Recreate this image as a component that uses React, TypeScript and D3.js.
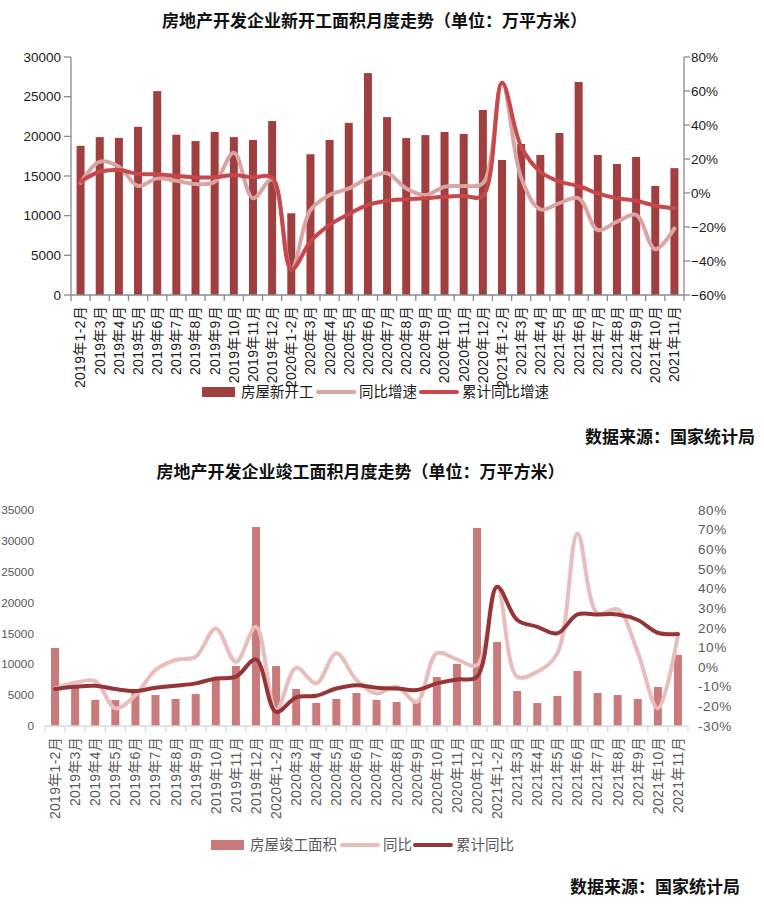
import React, { useEffect } from "react";
import * as d3 from "d3";

const months = [
  "2019年1-2月", "2019年3月", "2019年4月", "2019年5月", "2019年6月", "2019年7月", "2019年8月", "2019年9月",
  "2019年10月", "2019年11月", "2019年12月", "2020年1-2月", "2020年3月", "2020年4月", "2020年5月", "2020年6月",
  "2020年7月", "2020年8月", "2020年9月", "2020年10月", "2020年11月", "2020年12月", "2021年1-2月", "2021年3月",
  "2021年4月", "2021年5月", "2021年6月", "2021年7月", "2021年8月", "2021年9月", "2021年10月", "2021年11月",
];

// Chart 1: new starts (万平方米), monthly yoy %, cumulative yoy %
const newStarts = [18800, 19900, 19800, 21200, 25700, 20200, 19400, 20550, 19900, 19540, 21930, 10300, 17740, 19540, 21700, 27970, 22420, 19780, 20150, 20550, 20300, 23320, 17020, 19030, 17650, 20420, 26850, 17650, 16510, 17400, 13740, 15990];
const newStartsYoy = [6, 18.4, 15.5, 4.1, 8.6, 7.2, 5.3, 6.6, 23.7, -3.1, 8, -45, -10, -1.2, 2.7, 8.6, 11.6, 2.7, -1.2, 3.7, 4.1, 5.7, 64.9, 9, -9.6, -6, -3.1, -21.8, -16.9, -12.9, -33.1, -20.8];
const newStartsCum = [6.7, 12.5, 13.5, 11.2, 11, 10, 9.2, 9.2, 10.6, 9.2, 9.2, -45, -28.6, -18.8, -12.4, -7, -4.5, -3.7, -3.1, -2.2, -1.8, -1.8, 64.9, 27.2, 12.5, 6.7, 4.1, -0.2, -3.1, -4.5, -7.5, -9];
const leftTicks1 = [0, 5000, 10000, 15000, 20000, 25000, 30000];
const rightTicks1 = [-60, -40, -20, 0, 20, 40, 60, 80];

// Chart 2: completions (万平方米), monthly yoy %, cumulative yoy %
const completions = [12640, 6500, 4210, 4200, 5500, 5020, 4380, 5190, 7730, 9720, 32250, 9720, 6000, 3730, 4380, 5350, 4210, 3890, 4200, 7940, 10050, 32090, 13610, 5670, 3730, 4860, 8910, 5350, 5020, 4380, 6320, 11510];
const completionsYoy = [-10.9, -8, -7.1, -21, -14.3, -1.5, 3.6, 5.3, 19.7, 2.7, 20.5, -21.9, -0.3, -8.3, 7, -6.6, -13.4, -10, -17.7, 7, 3.9, 1, 40.9, -4.9, -2.4, 7, 68, 27.3, 29.4, 7.5, -21, 16.3];
const completionsCum = [-11.2, -10, -9.5, -11.2, -12.2, -10.5, -9.5, -8.3, -5.8, -4.9, 3.9, -22.8, -15.4, -14.6, -10.9, -9.2, -10.5, -10.9, -11.7, -8.3, -6.3, -4.9, 40.9, 24, 20.5, 17.2, 26.8, 26.8, 26.8, 24, 17.5, 16.8];
const leftTicks2 = [0, 5000, 10000, 15000, 20000, 25000, 30000, 35000];
const rightTicks2 = [-30, -20, -10, 0, 10, 20, 30, 40, 50, 60, 70, 80];

const title1 = "房地产开发企业新开工面积月度走势（单位：万平方米）";
const title2 = "房地产开发企业竣工面积月度走势（单位：万平方米）";
const legend1 = ["房屋新开工", "同比增速", "累计同比增速"];
const legend2 = ["房屋竣工面积", "同比", "累计同比"];
const source = "数据来源：国家统计局";

const SANS = "'Liberation Sans', 'Noto Sans CJK SC', sans-serif";
const CJK = "'Noto Sans CJK SC', sans-serif";

type ChartProps = {
  x0: number; x1: number; yTop: number; yBase: number;
  bars: number[]; yoy: number[]; cum: number[];
  leftMax: number; rMin: number; rMax: number;
  leftTicks: number[]; rightTicks: number[];
  barColor: string; yoyColor: string; cumColor: string;
  textColor: string; axisColor: string;
  showAxes: boolean; leftLabelX: number; rightLabelX: number;
  barW: number; labelFont: number; leftFont: number; tickFont: number; labelSpacing: number; tickSpacing: number;
  pctFmt: (v: number) => string;
};

function Chart(p: ChartProps) {
  const x = d3.scaleBand<string>().domain(months).range([p.x0, p.x1]).paddingInner(0).paddingOuter(0);
  const yL = d3.scaleLinear().domain([0, p.leftMax]).range([p.yBase, p.yTop]);
  const yR = d3.scaleLinear().domain([p.rMin, p.rMax]).range([p.yBase, p.yTop]);
  const cx = (i: number) => (x(months[i]) as number) + x.bandwidth() / 2;
  const line = d3.line<number>().x((_, i) => cx(i)).y((d) => yR(d)).curve(d3.curveCatmullRom.alpha(0.5));
  const bounds = [...months.map((m) => x(m) as number), p.x1];
  return (
    <g>
      {p.bars.map((v, i) => (
        <rect key={i} x={cx(i) - p.barW / 2} y={yL(v)} width={p.barW} height={p.yBase - yL(v)} fill={p.barColor} />
      ))}
      <path d={line(p.yoy) || ""} fill="none" stroke={p.yoyColor} strokeWidth={4} strokeLinecap="round" strokeLinejoin="round" />
      <path d={line(p.cum) || ""} fill="none" stroke={p.cumColor} strokeWidth={4} strokeLinecap="round" strokeLinejoin="round" />
      <line x1={p.x0} x2={p.x1} y1={p.yBase} y2={p.yBase} stroke={p.axisColor} strokeWidth={1.3} />
      {bounds.map((b, i) => (
        <line key={i} x1={b} x2={b} y1={p.yBase} y2={p.yBase + 6} stroke={p.axisColor} strokeWidth={1.3} />
      ))}
      {months.map((m, i) => (
        <text key={m} transform={`translate(${cx(i)},${p.yBase + 11}) rotate(-90)`} textAnchor="end" dy="0.35em"
          fontSize={p.labelFont} letterSpacing={p.labelSpacing} fontFamily={SANS} fill={p.textColor}>{m}</text>
      ))}
      {p.showAxes && (
        <g>
          <line x1={p.x0} x2={p.x0} y1={p.yTop} y2={p.yBase} stroke={p.axisColor} strokeWidth={1.3} />
          <line x1={p.x1} x2={p.x1} y1={p.yTop} y2={p.yBase} stroke={p.axisColor} strokeWidth={1.3} />
          {p.leftTicks.map((t) => (
            <line key={"l" + t} x1={p.x0 - 7} x2={p.x0} y1={yL(t)} y2={yL(t)} stroke={p.axisColor} strokeWidth={1.3} />
          ))}
          {p.rightTicks.map((t) => (
            <line key={"r" + t} x1={p.x1} x2={p.x1 + 6} y1={yR(t)} y2={yR(t)} stroke={p.axisColor} strokeWidth={1.3} />
          ))}
        </g>
      )}
      {p.leftTicks.map((t) => (
        <text key={"lt" + t} x={p.leftLabelX} y={yL(t)} dy="0.35em" textAnchor="end" fontSize={p.leftFont}
          fontFamily={SANS} fill={p.textColor}>{t}</text>
      ))}
      {p.rightTicks.map((t) => (
        <text key={"rt" + t} x={p.rightLabelX} y={yR(t)} dy="0.35em" textAnchor="start" fontSize={p.tickFont}
          letterSpacing={p.tickSpacing} fontFamily={SANS} fill={p.textColor}>{p.pctFmt(t)}</text>
      ))}
    </g>
  );
}

function Legend(props: { y: number; xs: number[]; labels: string[]; colors: string[]; textColor: string }) {
  const { y, xs, labels, colors, textColor } = props;
  return (
    <g fontFamily={CJK} fontSize={14.5} fill={textColor}>
      <rect x={xs[0]} y={y - 5} width={33} height={10} fill={colors[0]} />
      <text x={xs[0] + 39} y={y} dy="0.35em">{labels[0]}</text>
      <line x1={xs[1]} x2={xs[1] + 36} y1={y} y2={y} stroke={colors[1]} strokeWidth={4} strokeLinecap="round" />
      <text x={xs[1] + 41} y={y} dy="0.35em">{labels[1]}</text>
      <line x1={xs[2]} x2={xs[2] + 36} y1={y} y2={y} stroke={colors[2]} strokeWidth={4} strokeLinecap="round" />
      <text x={xs[2] + 41} y={y} dy="0.35em">{labels[2]}</text>
    </g>
  );
}

export default function App() {
  useEffect(() => {
    document.body.style.margin = "0";
    document.body.style.overflow = "hidden";
  }, []);
  const c1 = { bar: "#9f3f40", yoy: "#d9a4a2", cum: "#c8474a" };
  const c2 = { bar: "#c97b7c", yoy: "#e9bdbc", cum: "#953536" };
  return (
    <svg width={764} height={906} style={{ position: "absolute", left: 0, top: 0, background: "#fff" }}>
      <rect x={0} y={0} width={764} height={906} fill="#fff" />
      <text x={374.5} y={21} dy="0.35em" textAnchor="middle" fontSize={17} fontWeight={700} fontFamily={CJK} fill="#111">{title1}</text>
      <Chart x0={71} x1={684} yTop={57} yBase={295} bars={newStarts} yoy={newStartsYoy} cum={newStartsCum}
        leftMax={30000} rMin={-60} rMax={80} leftTicks={leftTicks1} rightTicks={rightTicks1}
        barColor={c1.bar} yoyColor={c1.yoy} cumColor={c1.cum} textColor="#1a1a1a" axisColor="#8a8a8a"
        showAxes={true} leftLabelX={61} rightLabelX={691} barW={8} labelFont={14} leftFont={13.5} tickFont={13.5}
        labelSpacing={0.3} tickSpacing={0}
        pctFmt={(v) => (v < 0 ? "−" + Math.abs(v) : String(v)) + "%"} />
      <Legend y={392} xs={[202, 318, 421]} labels={legend1} colors={[c1.bar, c1.yoy, c1.cum]} textColor="#1a1a1a" />
      <text x={755} y={437} dy="0.35em" textAnchor="end" fontSize={17} fontWeight={700} fontFamily={CJK} fill="#111">{source}</text>

      <text x={360.5} y={472} dy="0.35em" textAnchor="middle" fontSize={17} fontWeight={700} fontFamily={CJK} fill="#111">{title2}</text>
      <Chart x0={45} x1={688} yTop={510} yBase={726} bars={completions} yoy={completionsYoy} cum={completionsCum}
        leftMax={35000} rMin={-30} rMax={80} leftTicks={leftTicks2} rightTicks={rightTicks2}
        barColor={c2.bar} yoyColor={c2.yoy} cumColor={c2.cum} textColor="#595959" axisColor="#d9d9d9"
        showAxes={false} leftLabelX={34} rightLabelX={698} barW={8} labelFont={14} leftFont={11.8} tickFont={13.5}
        labelSpacing={0.3} tickSpacing={0.6}
        pctFmt={(v) => v + "%"} />
      <Legend y={845} xs={[211, 342, 415]} labels={legend2} colors={[c2.bar, c2.yoy, c2.cum]} textColor="#595959" />
      <text x={740} y={887} dy="0.35em" textAnchor="end" fontSize={17} fontWeight={700} fontFamily={CJK} fill="#111">{source}</text>
    </svg>
  );
}
